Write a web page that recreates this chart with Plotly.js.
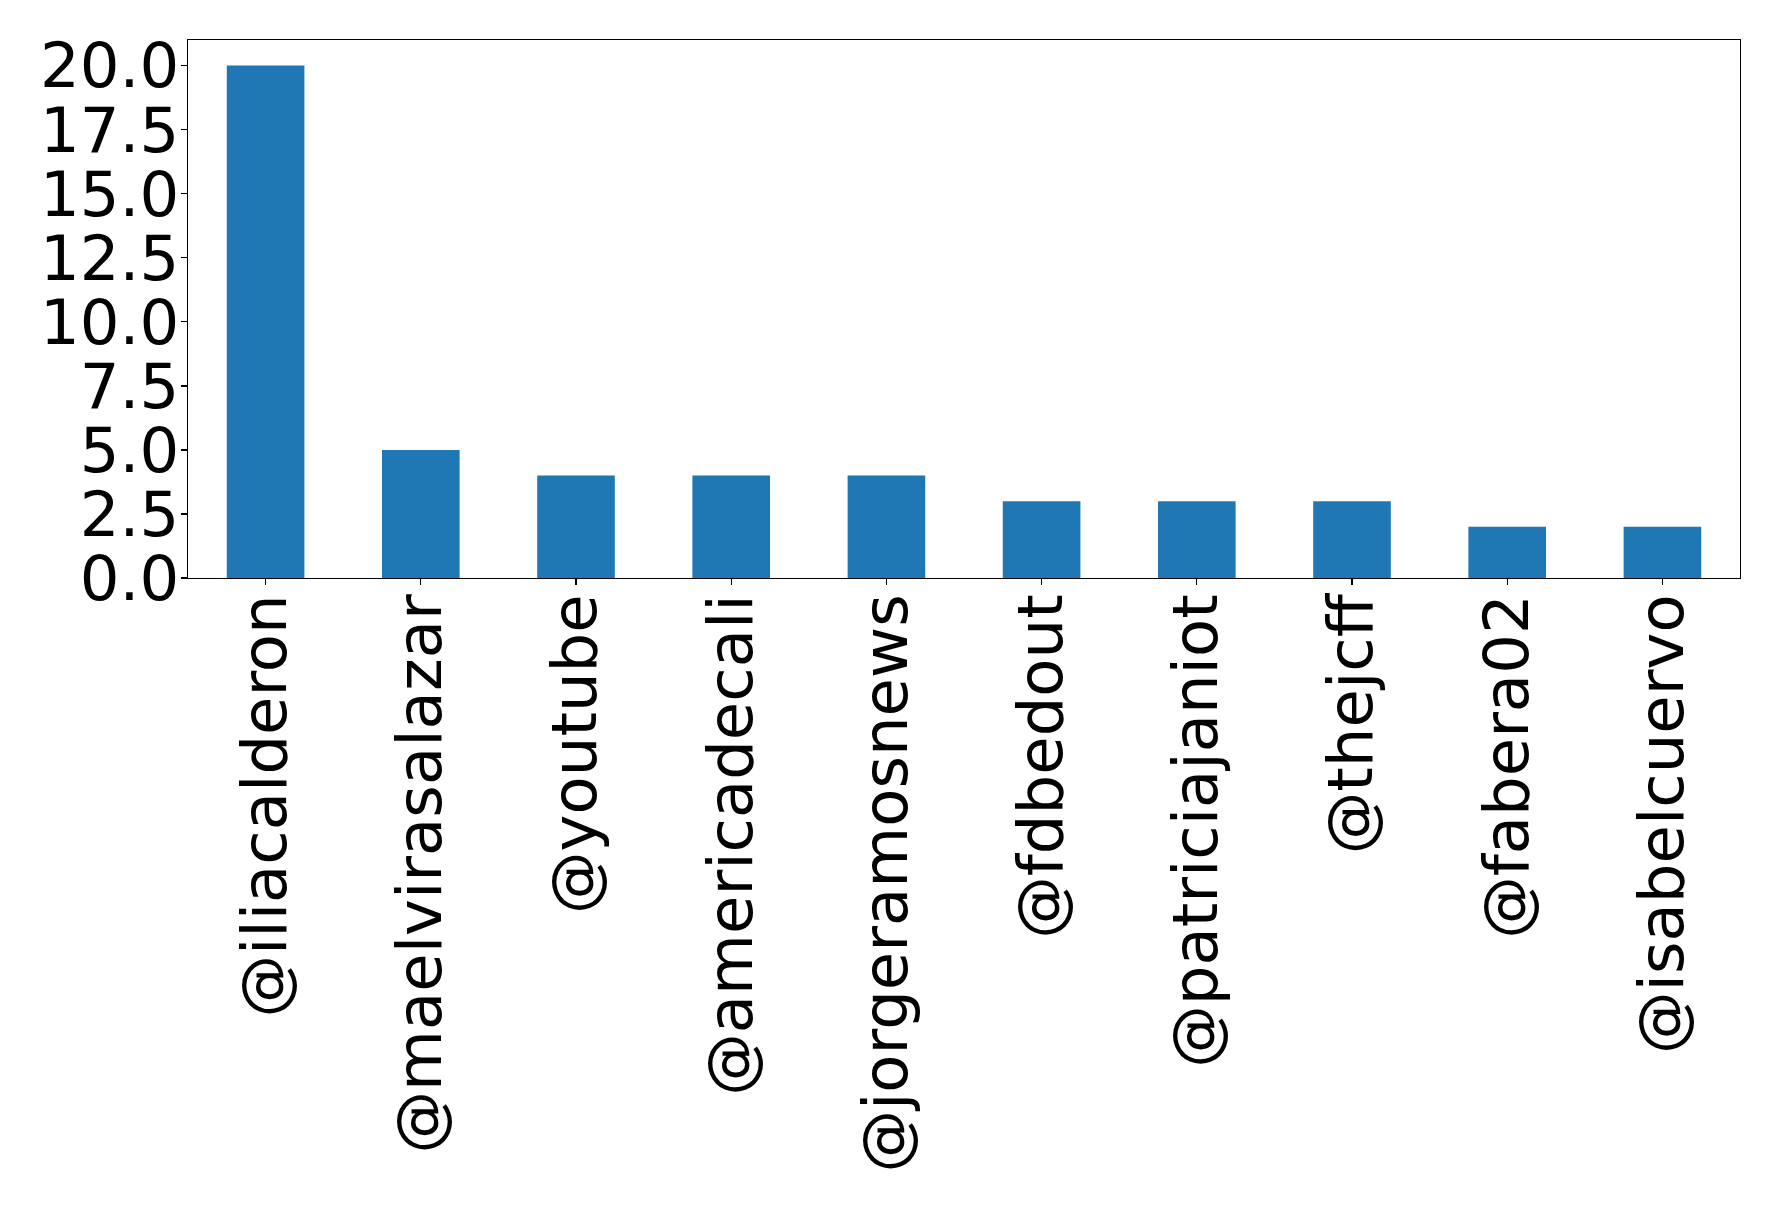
<!DOCTYPE html>
<html>
<head>
<meta charset="utf-8">
<script src="https://cdn.plot.ly/plotly-3.0.1.min.js"></script>
<style>html,body{margin:0;padding:0;background:#fff;}</style>
</head>
<body>
<div id="chart" style="width:1778px;height:1206px;"></div>
<script>
const categories = ["@iliacalderon","@maelvirasalazar","@youtube","@americadecali","@jorgeramosnews","@fdbedout","@patriciajaniot","@thejcff","@fabera02","@isabelcuervo"];
const counts = [20, 5, 4, 4, 4, 3, 3, 3, 2, 2];
const yTicks = [0, 2.5, 5, 7.5, 10, 12.5, 15, 17.5, 20];

const trace = {
  type: 'bar',
  x: categories,
  y: counts,
  width: 0.5,
  marker: {color: '#1f77b4', line: {width: 0}},
  hoverinfo: 'x+y'
};

const font = {family: 'DejaVu Sans, sans-serif', size: 62.5, color: '#000'};

const layout = {
  width: 1778,
  height: 1206,
  autosize: false,
  margin: {l: 188, r: 38, t: 40, b: 628, pad: 0},
  paper_bgcolor: '#fff',
  plot_bgcolor: '#fff',
  showlegend: false,
  font: font,
  bargap: 0.5,
  xaxis: {
    type: 'category',
    range: [-0.5, 9.5],
    tickangle: -90,
    tickfont: font,
    ticks: 'outside',
    ticklen: 6,
    tickwidth: 1.3,
    tickcolor: '#000',
    ticklabelstandoff: -16,
    showline: true,
    mirror: true,
    linecolor: '#000',
    linewidth: 1.3,
    showgrid: false,
    zeroline: false,
    automargin: false
  },
  yaxis: {
    range: [0, 21],
    tickvals: yTicks,
    ticktext: yTicks.map(v => v.toFixed(1)),
    tickfont: font,
    ticks: 'outside',
    ticklen: 6,
    tickwidth: 1.3,
    tickcolor: '#000',
    ticklabelstandoff: -11,
    showline: true,
    mirror: true,
    linecolor: '#000',
    linewidth: 1.3,
    showgrid: false,
    zeroline: false,
    automargin: false
  }
};

Plotly.newPlot('chart', [trace], layout, {displayModeBar: false, staticPlot: true});
</script>
</body>
</html>
